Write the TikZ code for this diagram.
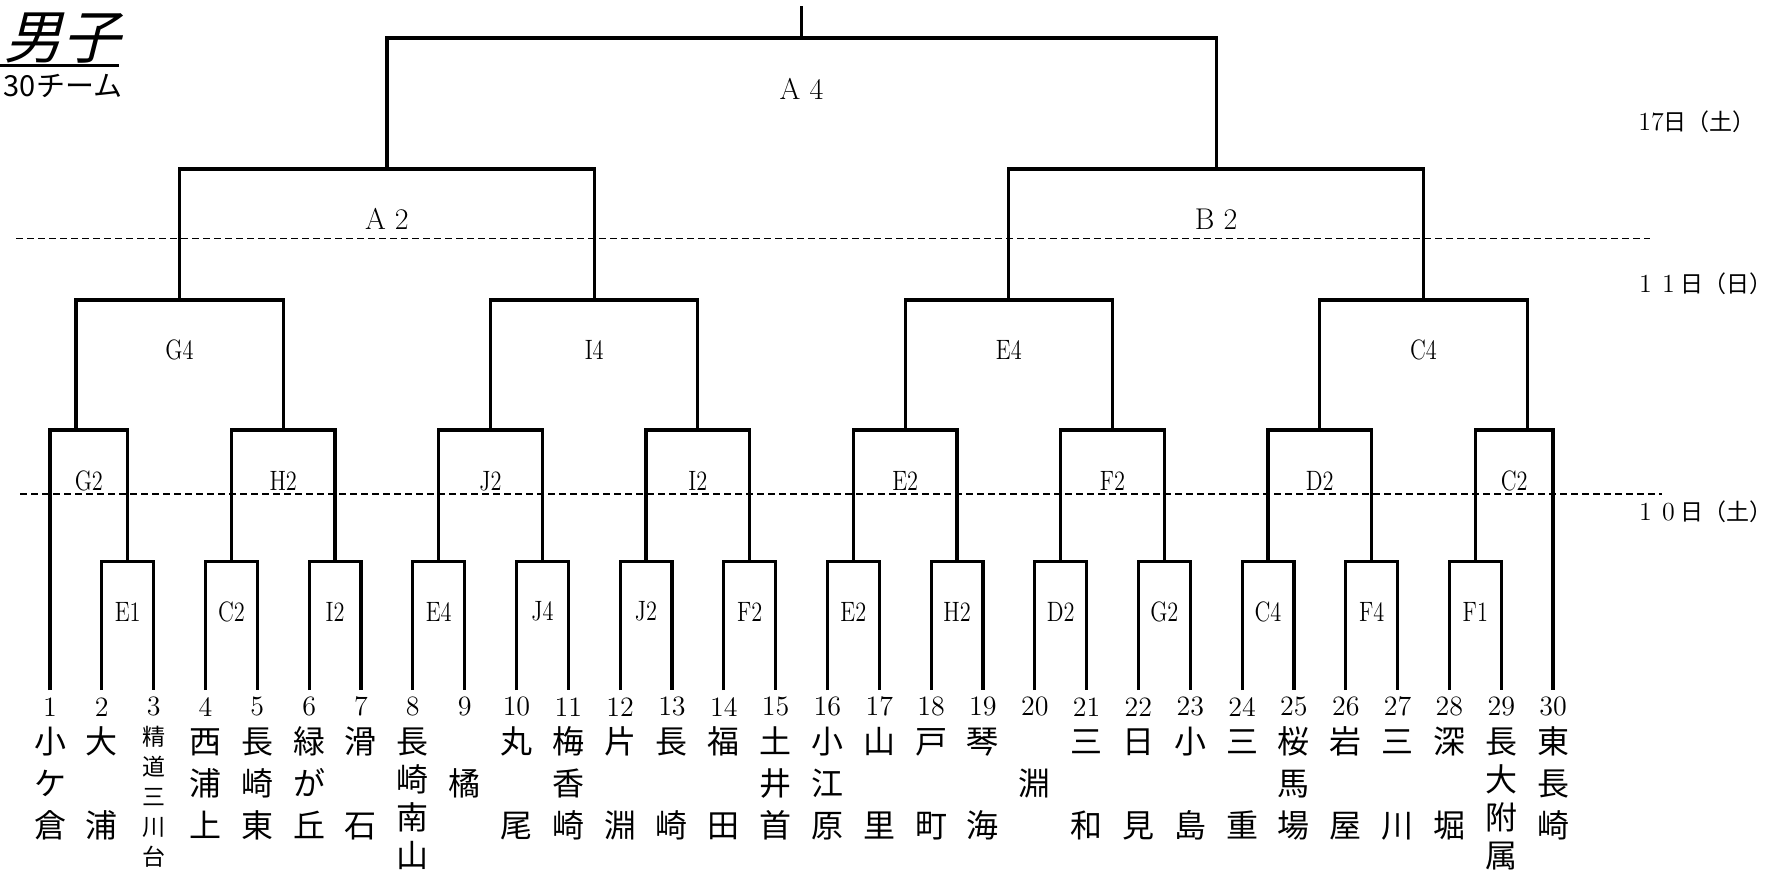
\documentclass[tikz,border=0pt]{standalone}
\usepackage{fontspec}
\newfontfamily\cjk{Noto Sans CJK JP}
\newfontfamily\cjkit[FakeSlant=0.25]{Noto Sans CJK JP}
\newcommand\narrow[1]{\scalebox{0.8}[1]{#1}}
\newcommand\zd[1]{\makebox[1em]{\rmfamily\fontsize{13}{13}\selectfont #1}}

\begin{document}
\begin{tikzpicture}[x=0.5pt,y=-0.5pt,
    line/.style={line width=1.6pt},
    daysep/.style={dash pattern=on 3.5pt off 2pt, line width=0.7pt},
    num/.style={font=\fontsize{14}{14}\selectfont, inner sep=0pt},
    team/.style={font=\cjk\fontsize{16}{16}\selectfont, inner sep=0pt, text height=14.08pt, text depth=1.92pt},
    teamsm/.style={font=\cjk\fontsize{11.5}{11.5}\selectfont, inner sep=0pt, text height=10.12pt, text depth=1.38pt},
    match/.style={font=\fontsize{14}{14}\selectfont, inner sep=0pt},
    final/.style={font=\fontsize{15}{15}\selectfont, inner sep=0pt},
    day/.style={font=\cjk\fontsize{11.5}{11.5}\selectfont, inner sep=0pt}]

    \useasboundingbox (0,0) rectangle (1786,869);

    % title
    \node[font=\cjkit\fontsize{29}{29}\selectfont, inner sep=0pt] (title) at (62,38) {男子};
    \draw[line width=1.3pt] (0,65.5) -- (119,65.5);
    \node[font=\cjk\fontsize{14.5}{14.5}\selectfont, inner sep=0pt] (teams) at (63,86) {30チーム};

    % days
    \draw[daysep] (16,238.5) -- (1650,238.5);
    \draw[daysep] (20,494) -- (1662,494);
    \node[day] (day3) at (1697,122) {{\rmfamily\fontsize{13}{13}\selectfont 17}日（土）};
    \node[day] (day2) at (1703,284) {\zd{1}\zd{1}日（日）};
    \node[day] (day1) at (1703,512) {\zd{1}\zd{0}日（土）};

    % leaves
    \foreach \i in {1,...,30}{
        \coordinate (t\i) at ({51.83*\i-1.83},690);
        \node[num] (n\i) at ({51.83*\i-1.83},706.7) {\i};
    }

    % team names
    \foreach \i/\ca/\cb/\cc in {1/小/ケ/倉,4/西/浦/上,5/長/崎/東,6/緑/が/丘,11/梅/香/崎,15/土/井/首,16/小/江/原,25/桜/馬/場,30/東/長/崎}{
        \node[team] (a\i) at ({51.83*\i-1.83},741.7) {\ca};
        \node[team] (b\i) at ({51.83*\i-1.83},783.3) {\cb};
        \node[team] (c\i) at ({51.83*\i-1.83},825) {\cc};
    }
    \foreach \i/\ca/\cc in {2/大/浦,7/滑/石,10/丸/尾,12/片/淵,13/長/崎,14/福/田,17/山/里,18/戸/町,19/琴/海,21/三/和,22/日/見,23/小/島,24/三/重,26/岩/屋,27/三/川,28/深/堀}{
        \node[team] (a\i) at ({51.83*\i-1.83},741.7) {\ca};
        \node[team] (c\i) at ({51.83*\i-1.83},825) {\cc};
    }
    \foreach \i/\cb in {9/橘,20/淵}{
        \node[team] (b\i) at ({51.83*\i-1.83},783.3) {\cb};
    }
    \foreach \i/\ca/\cb/\cc/\cd in {8/長/崎/南/山,29/長/大/附/属}{
        \node[team] (a\i) at ({51.83*\i-1.83},741.7) {\ca};
        \node[team] (b\i) at ({51.83*\i-1.83},779.5) {\cb};
        \node[team] (c\i) at ({51.83*\i-1.83},817.3) {\cc};
        \node[team] (d\i) at ({51.83*\i-1.83},855.1) {\cd};
    }
    \foreach \ch [count=\k] in {精,道,三,川,台}{
        \node[teamsm] (s\k) at (153.66,{707+30*\k}) {\ch};
    }

    % 1st round
    \foreach \lo/\lab [count=\k] in {2/E1,4/C2,6/I2,8/E4,10/J4,12/J2,14/F2,16/E2,18/H2,20/D2,22/G2,24/C4,26/F4,28/F1}{
        \pgfmathtruncatemacro\hi{\lo+1}
        \coordinate (r1-\k) at ({51.83*(\lo+0.5)-1.83},561.7);
        \draw[line] (t\lo) |- (r1-\k) -| (t\hi);
        \node[match] (m1-\k) at ({51.83*(\lo+0.5)-1.83},611.7) {\narrow{\lab}};
    }

    % 2nd round
    \foreach \s/\m/\lft/\rgt/\lab [count=\k] in {1.5/1.75/t1/r1-1/G2,5.5/5.5/r1-2/r1-3/H2,9.5/9.5/r1-4/r1-5/J2,13.5/13.5/r1-6/r1-7/I2,17.5/17.5/r1-8/r1-9/E2,21.5/21.5/r1-10/r1-11/F2,25.5/25.5/r1-12/r1-13/D2,29.5/29.25/r1-14/t30/C2}{
        \coordinate (r2-\k) at ({51.83*\s-1.83},430);
        \draw[line] (\lft) |- (r2-\k) -| (\rgt);
        \node[match] (m2-\k) at ({51.83*\m-1.83},481) {\narrow{\lab}};
    }

    % 3rd round
    \foreach \s/\lft/\rgt/\lab [count=\k] in {3.5/r2-1/r2-2/G4,11.5/r2-3/r2-4/I4,19.5/r2-5/r2-6/E4,27.5/r2-7/r2-8/C4}{
        \coordinate (r3-\k) at ({51.83*\s-1.83},300);
        \draw[line] (\lft) |- (r3-\k) -| (\rgt);
        \node[match] (m3-\k) at ({51.83*\s-1.83},350) {\narrow{\lab}};
    }

    % semifinal
    \foreach \s/\lft/\rgt/\lab [count=\k] in {7.5/r3-1/r3-2/A 2,23.5/r3-3/r3-4/B 2}{
        \coordinate (r4-\k) at ({51.83*\s-1.83},169);
        \draw[line] (\lft) |- (r4-\k) -| (\rgt);
        \node[final] (m4-\k) at ({51.83*\s-1.83},219) {\lab};
    }

    % final
    \coordinate (r5) at ({51.83*15.5-1.83},38);
    \coordinate (top) at ({51.83*15.5-1.83},6);
    \draw[line] (r4-1) |- (r5) -| (r4-2);
    \draw[line] (r5) -- (top);
    \node[final] (m5) at ({51.83*15.5-1.83},89) {A 4};
\end{tikzpicture}
\end{document}
